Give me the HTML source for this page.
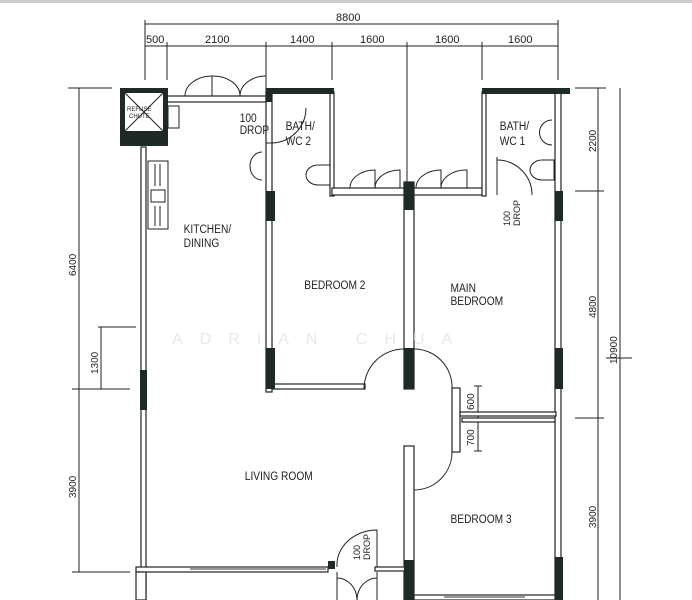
<!DOCTYPE html>
<html><head><meta charset="utf-8"><style>
html,body{margin:0;padding:0;background:#fff;}
svg{display:block}
text{font-family:"Liberation Sans",sans-serif;}
</style></head><body>
<svg width="692" height="600" viewBox="0 0 692 600" xmlns="http://www.w3.org/2000/svg">
<rect x="0" y="0" width="692" height="3" fill="#ccc"/>
<g stroke="#222" stroke-width="1" fill="none">
<line x1="145" y1="24" x2="558" y2="24"/>
<line x1="145" y1="46" x2="558" y2="46"/>
<line x1="145" y1="20" x2="145" y2="80"/>
<line x1="558" y1="20" x2="558" y2="80"/>
<line x1="167" y1="42" x2="167" y2="80"/>
<line x1="266" y1="42" x2="266" y2="80"/>
<line x1="332" y1="42" x2="332" y2="80"/>
<line x1="407" y1="42" x2="407" y2="182"/>
<line x1="482" y1="42" x2="482" y2="80"/>
<line x1="79" y1="88" x2="79" y2="572"/>
<line x1="68" y1="88" x2="112" y2="88"/>
<line x1="72" y1="389" x2="130" y2="389"/>
<line x1="72" y1="572" x2="130" y2="572"/>
<line x1="101" y1="327" x2="101" y2="389"/>
<line x1="98" y1="327" x2="136" y2="327"/>
<line x1="598" y1="88" x2="598" y2="600"/>
<line x1="620" y1="88" x2="620" y2="600"/>
<line x1="575" y1="88" x2="606" y2="88"/>
<line x1="575" y1="191" x2="604" y2="191"/>
<line x1="575" y1="418" x2="604" y2="418"/>
<line x1="606" y1="358" x2="632" y2="358"/>
<line x1="478" y1="386" x2="478" y2="451"/>
<line x1="474" y1="386" x2="482" y2="386"/>
<line x1="474" y1="451" x2="482" y2="451"/>
</g>
<g stroke="#222" stroke-width="1.2" fill="#fff">
<rect x="141" y="147" width="5" height="453"/>
<rect x="167" y="96" width="99" height="6"/>
<rect x="266" y="92" width="6" height="300"/>
<rect x="330" y="92" width="4" height="104"/>
<rect x="332" y="188" width="153" height="7"/>
<rect x="404" y="182" width="10" height="207"/>
<rect x="482" y="92" width="4" height="104"/>
<rect x="555" y="92" width="6" height="508"/>
<rect x="272" y="384" width="93" height="5"/>
<rect x="452" y="388" width="8" height="64"/>
<rect x="460" y="412" width="96" height="4"/>
<rect x="462" y="418" width="93" height="4"/>
<rect x="404" y="446" width="10" height="154"/>
<rect x="136" y="567" width="192" height="5"/>
<rect x="375" y="567" width="30" height="4"/>
<rect x="414" y="595" width="141" height="5"/>
<rect x="136" y="572" width="10" height="28"/>
</g>
<g fill="#1e2a26">
<rect x="120" y="88" width="48" height="58"/>
<rect x="266" y="88" width="68" height="6"/>
<rect x="482" y="88" width="88" height="6"/>
<rect x="140" y="370" width="7" height="40"/>
<rect x="266" y="191" width="9" height="30"/>
<rect x="266" y="348" width="9" height="41"/>
<rect x="404" y="182" width="10" height="28"/>
<rect x="404" y="348" width="10" height="41"/>
<rect x="555" y="191" width="8" height="30"/>
<rect x="555" y="348" width="8" height="41"/>
<rect x="555" y="557" width="8" height="43"/>
<rect x="404" y="560" width="10" height="40"/>
<rect x="328" y="561" width="7" height="8"/>
<rect x="266" y="92" width="6" height="10"/>
</g>
<rect x="125" y="93" width="38" height="38" fill="#fff"/>
<g stroke="#222" stroke-width="1" fill="none">
<line x1="125" y1="93" x2="163" y2="131"/><line x1="163" y1="93" x2="125" y2="131"/>
<path d="M185 96 A27 20 0 0 1 212 76 L212 96"/>
<path d="M212 76 A27 20 0 0 1 240 96"/>
<path d="M240 96 A26 20 0 0 1 266 76 L266 96"/>
<path d="M350 188 A25 18 0 0 1 375 170 L375 188"/><path d="M375 188 A25 18 0 0 1 400 170 L400 188"/>
<path d="M416 188 A25 18 0 0 1 441 170 L441 188"/><path d="M441 188 A25 18 0 0 1 467 170 L467 188"/>
<path d="M272 143 A35 35 0 0 0 306 108"/><line x1="266" y1="143" x2="272" y2="143"/>
<path d="M497 160 A35 35 0 0 1 532 195"/><line x1="497" y1="157" x2="497" y2="195"/>
<path d="M262 152 A12 14 0 0 0 262 180"/>
<path d="M318 165 A12 10 0 0 0 318 185 L330 185 L330 165 Z"/>
<path d="M552 120 A12 12 0 0 0 552 145"/>
<path d="M542 160 A12 10 0 0 0 542 180 L554 180 L554 160 Z"/>
<path d="M364 389 A40 40 0 0 1 404 349"/>
<path d="M414 349 A38 38 0 0 1 452 388"/>
<path d="M414 490 A38 38 0 0 0 452 452"/>
<path d="M337 567 A40 35 0 0 1 377 530 L377 567"/>
<path d="M337 572 L337 600 M377 572 L377 600 M337 578 A20 22 0 0 1 357 600 M377 578 A20 22 0 0 0 357 600"/>
<rect x="148" y="161" width="20" height="68"/>
<rect x="151" y="190" width="14" height="12"/>
<line x1="155" y1="164" x2="155" y2="186"/><line x1="160" y1="164" x2="160" y2="186"/>
<line x1="155" y1="206" x2="155" y2="226"/><line x1="160" y1="206" x2="160" y2="226"/>
<rect x="168" y="106" width="11" height="22"/>
</g>
<g stroke="#999" stroke-width="2" fill="none">
<line x1="190" y1="569" x2="326" y2="569"/>
<line x1="444" y1="597" x2="525" y2="597"/>
</g>
<text x="172" y="344" font-size="16" style="fill:#e8e8e8" letter-spacing="17">ADRIAN CHUA</text>
<g font-size="11" fill="#222">
<text x="336" y="21">8800</text>
<text x="146" y="43">500</text>
<text x="205" y="43">2100</text>
<text x="290" y="43">1400</text>
<text x="360" y="43">1600</text>
<text x="435" y="43">1600</text>
<text x="508" y="43">1600</text>
</g>
<g font-size="6" fill="#222"><text x="127" y="111">REFUSE</text><text x="129" y="118">CHUTE</text></g>
<g font-size="12" fill="#222" transform="scale(0.85 1)">
<text x="282" y="122">100</text><text x="282" y="134">DROP</text>
<text x="336" y="130">BATH/</text><text x="336" y="145">WC  2</text>
<text x="588" y="130">BATH/</text><text x="588" y="145">WC  1</text>
<text x="216" y="233">KITCHEN/</text><text x="216" y="247">DINING</text>
<text x="358" y="289">BEDROOM  2</text>
<text x="530" y="292">MAIN</text><text x="530" y="305">BEDROOM</text>
<text x="288" y="480">LIVING  ROOM</text>
<text x="530" y="523">BEDROOM  3</text>
</g>
<g font-size="10" fill="#222">
<text transform="translate(76 276) rotate(-90)">6400</text>
<text transform="translate(76 498) rotate(-90)">3900</text>
<text transform="translate(98 374) rotate(-90)">1300</text>
<text transform="translate(596 152) rotate(-90)">2200</text>
<text transform="translate(596 318) rotate(-90)">4800</text>
<text transform="translate(596 528) rotate(-90)">3900</text>
<text transform="translate(617 364) rotate(-90)">10900</text>
<text transform="translate(474 410) rotate(-90)">600</text>
<text transform="translate(474 446) rotate(-90)">700</text>
<text transform="translate(510 226) rotate(-90)" font-size="9">100</text>
<text transform="translate(520 226) rotate(-90)" font-size="9">DROP</text>
<text transform="translate(360 560) rotate(-90)" font-size="9">100</text>
<text transform="translate(370 560) rotate(-90)" font-size="9">DROP</text>
</g>
</svg>
</body></html>
